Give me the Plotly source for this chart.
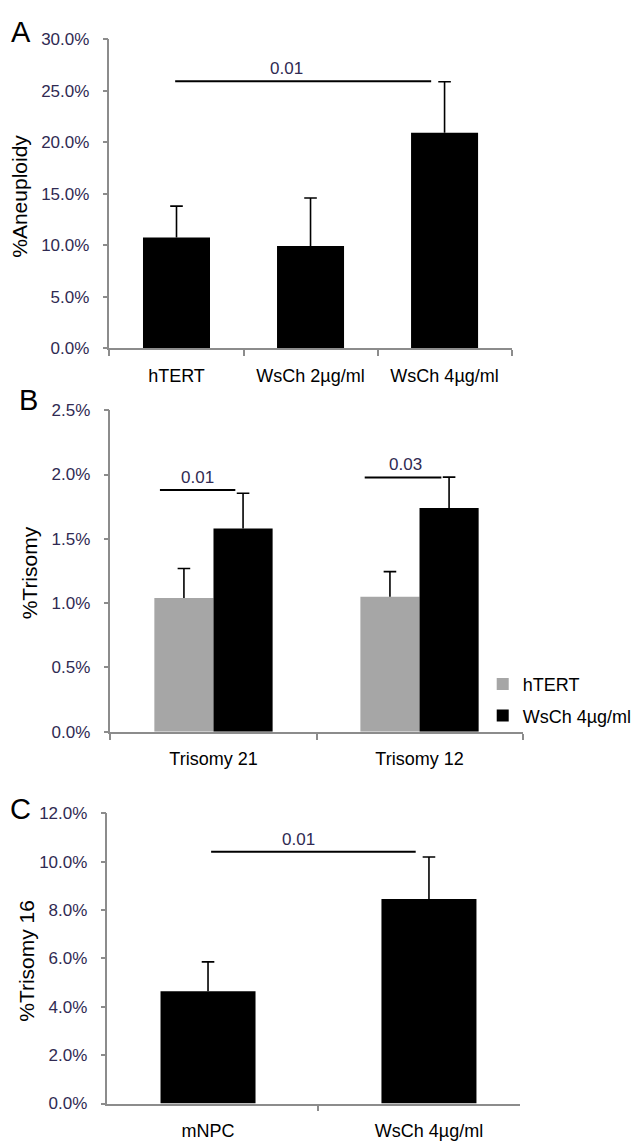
import plotly.graph_objects as go

# ---- data -------------------------------------------------------------
# Panel A: % aneuploidy
a_categories = ["hTERT", "WsCh 2µg/ml", "WsCh 4µg/ml"]
a_values = [10.76, 9.93, 20.95]
a_err_up = [3.05, 4.67, 4.95]

# Panel B: % trisomy, two series
b_categories = ["Trisomy 21", "Trisomy 12"]
b_htert = [1.04, 1.05]
b_htert_err = [0.23, 0.195]
b_wsch = [1.58, 1.74]
b_wsch_err = [0.275, 0.24]

# Panel C: % trisomy 16
c_categories = ["mNPC", "WsCh 4µg/ml"]
c_values = [4.64, 8.46]
c_err_up = [1.22, 1.74]

# y-axis tick values
a_ticks = [0, 5, 10, 15, 20, 25, 30]
b_ticks = [0, 0.5, 1.0, 1.5, 2.0, 2.5]
c_ticks = [0, 2, 4, 6, 8, 10, 12]

# significance brackets: (x axis, y axis, x0, x1, y, label, label x)
sig_lines = [
    ("x", "y", -0.01, 1.9, 25.95, "0.01", 0.82),
    ("x2", "y2", -0.26, 0.106, 1.88, "0.01", -0.08),
    ("x2", "y2", 0.734, 1.106, 1.977, "0.03", 0.93),
    ("x3", "y3", 0.014, 0.94, 10.41, "0.01", 0.41),
]

W, H = 637, 1144
FONT = "Liberation Sans, Arial, sans-serif"
TICK_COL = "#302a52"
AXIS_COL = "#8c8c8c"

A_BAR_W = 0.5
B_BAR_W = 0.287
C_BAR_W = 0.43


def px_x(p):
    return p / W


def px_y(p):
    return 1 - p / H


fig = go.Figure()


def add_bars(xpos, vals, errs, width, color, xa, ya, name=None, group=None):
    """Bar with an upward-only error whisker topped by a single cap."""
    fig.add_trace(go.Bar(
        x=xpos, y=vals, width=width, name=name, legendgroup=group,
        showlegend=name is not None,
        marker=dict(color=color, line=dict(width=0)),
        error_y=dict(type="data", array=errs, arrayminus=[0] * len(errs),
                     symmetric=False, color="black", thickness=1.6, width=0),
        xaxis=xa, yaxis=ya))
    fig.add_trace(go.Scatter(
        x=xpos, y=[v + e for v, e in zip(vals, errs)], mode="markers",
        marker=dict(symbol="line-ew", size=9,
                    line=dict(color="black", width=1.6)),
        showlegend=False, hoverinfo="skip", xaxis=xa, yaxis=ya))


a_pos = list(range(len(a_categories)))
b_pos = list(range(len(b_categories)))
c_pos = list(range(len(c_categories)))

add_bars(a_pos, a_values, a_err_up, A_BAR_W, "black", "x", "y")
add_bars([p - B_BAR_W / 2 for p in b_pos], b_htert, b_htert_err, B_BAR_W,
         "#a6a6a6", "x2", "y2", name="hTERT", group="g1")
add_bars([p + B_BAR_W / 2 for p in b_pos], b_wsch, b_wsch_err, B_BAR_W,
         "black", "x2", "y2", name="WsCh 4µg/ml", group="g2")
add_bars(c_pos, c_values, c_err_up, C_BAR_W, "black", "x3", "y3")


def xaxis(left, right, anchor, rng, cats):
    n = len(cats)
    return dict(domain=[px_x(left), px_x(right)], anchor=anchor,
                range=rng, tickvals=list(range(n)), ticktext=cats,
                ticks="", showline=True, linecolor=AXIS_COL, linewidth=1.5,
                minor=dict(tickvals=[i - 0.5 for i in range(n + 1)],
                           ticks="outside", ticklen=6, tickcolor=AXIS_COL,
                           tickwidth=1.5, showgrid=False),
                showgrid=False, zeroline=False,
                tickfont=dict(family=FONT, size=18, color="black"),
                ticklabelstandoff=10, fixedrange=True)


def yaxis(top, bottom, anchor, rng, ticks):
    return dict(domain=[px_y(bottom), px_y(top)], anchor=anchor,
                range=rng, tickvals=ticks,
                ticktext=[f"{t:.1f}%" for t in ticks],
                showline=True, linecolor=AXIS_COL, linewidth=1.5,
                ticks="outside", ticklen=5, tickcolor=AXIS_COL, tickwidth=1.5,
                showgrid=False, zeroline=False,
                tickfont=dict(family=FONT, size=17, color=TICK_COL),
                ticklabelstandoff=10, fixedrange=True)


layout = dict(
    width=W, height=H,
    margin=dict(l=0, r=0, t=0, b=0),
    paper_bgcolor="white", plot_bgcolor="white",
    barmode="overlay",
    xaxis=xaxis(110, 514, "y", [-0.5, 2.5], a_categories),
    yaxis=yaxis(31, 345, "x", [0, 30], a_ticks),
    xaxis2=xaxis(111, 525, "y2", [-0.5, 1.5], b_categories),
    yaxis2=yaxis(408, 735, "x2", [0, 2.5], b_ticks),
    xaxis3=xaxis(108, 522, "y3", [-0.455, 1.41], c_categories),
    yaxis3=yaxis(818, 1113, "x3", [0, 12], c_ticks),
    legend=dict(x=px_x(485), y=px_y(668), xanchor="left", yanchor="top",
                font=dict(family=FONT, size=18, color="black"),
                bgcolor="rgba(0,0,0,0)", tracegroupgap=5,
                itemclick=False, itemdoubleclick=False),
    showlegend=True,
)
fig.update_layout(**layout)

shapes = []
annotations = []
for xa, ya, x0, x1, yv, label, lx in sig_lines:
    shapes.append(dict(type="line", xref=xa, yref=ya, x0=x0, x1=x1,
                       y0=yv, y1=yv, line=dict(color="black", width=2)))
    annotations.append(dict(xref=xa, yref=ya, x=lx, y=yv, text=label,
                            showarrow=False, yanchor="bottom", yshift=1,
                            font=dict(family=FONT, size=17, color=TICK_COL)))

# axis titles
for text, xc, yc in [("%Aneuploidy", 20, 190), ("%Trisomy", 30, 573),
                     ("%Trisomy 16", 27, 968)]:
    annotations.append(dict(xref="paper", yref="paper", x=px_x(xc), y=px_y(yc),
                            text=text, textangle=-90, showarrow=False,
                            xanchor="center", yanchor="middle",
                            font=dict(family=FONT, size=21, color="black")))

# panel letters
for text, xc, yc in [("A", 21, 23), ("B", 29, 398), ("C", 21, 814)]:
    annotations.append(dict(xref="paper", yref="paper", x=px_x(xc), y=px_y(yc),
                            text=text, showarrow=False,
                            xanchor="center", yanchor="middle",
                            font=dict(family=FONT, size=29, color="black")))

fig.update_layout(shapes=shapes, annotations=annotations)

fig.write_html("out.html", config={"displayModeBar": False})
